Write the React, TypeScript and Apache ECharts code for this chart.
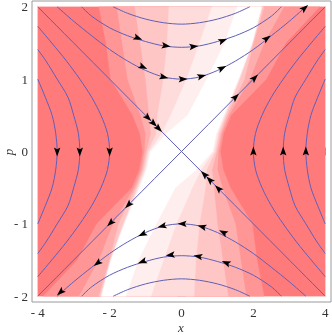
import React, { useEffect, useRef } from 'react';
import * as echarts from 'echarts';

// ---- axis ticks ----
const X_TICKS = [-4, -2, 0, 2, 4];
const X_MINOR = [-4, -3.5, -3, -2.5, -2, -1.5, -1, -0.5, 0, 0.5, 1, 1.5, 2, 2.5, 3, 3.5, 4];
const P_TICKS = [-2, -1, 0, 1, 2];
const P_MINOR = [-2, -1.8, -1.6, -1.4, -1.2, -1, -0.8, -0.6, -0.4, -0.2, 0, 0.2, 0.4, 0.6, 0.8, 1, 1.2, 1.4, 1.6, 1.8, 2];
const X_NAME = 'x';
const P_NAME = 'p';

// ---- background shading regions (data coords) ----
const BAND_COLORS = ['#FF7B7B', '#FF9595', '#FFAEAE', '#FFC6C6', '#FFDCDC', '#FFEEEE', '#FFFFFF'];
const BAND_BASE = [[-4, -2], [4, -2], [4, 2], [-4, 2]];
const BAND_1 = [[3.85, 2], [2.9, 1.5], [2.36, 1], [1.38, 0.5], [1.17, 0.25], [1.08, 0], [1.16, -0.25], [1.36, -0.5], [1.97, -1], [2.1, -1.5], [2.3, -2],
  [-3.85, -2], [-2.9, -1.5], [-2.36, -1], [-1.38, -0.5], [-1.17, -0.25], [-1.08, 0], [-1.16, 0.25], [-1.36, 0.5], [-1.97, 1], [-2.1, 1.5], [-2.3, 2]];
const BAND_2 = [[2.85, 2], [2.3, 1.5], [1.9, 1], [1.32, 0.5], [1.12, 0.25], [1.03, 0], [1.0, -0.25], [1.14, -0.5], [1.5, -1], [1.65, -1.5], [1.8, -2],
  [-2.85, -2], [-2.3, -1.5], [-1.9, -1], [-1.32, -0.5], [-1.12, -0.25], [-1.03, 0], [-1.0, 0.25], [-1.14, 0.5], [-1.5, 1], [-1.65, 1.5], [-1.8, 2]];
const BAND_3 = [[2.3, 2], [2.0, 1.5], [1.75, 1], [1.27, 0.5], [1.08, 0.25], [0.98, 0], [0.85, -0.25], [0.9, -0.5], [1.0, -1], [1.15, -1.5], [1.3, -2],
  [-2.3, -2], [-2.0, -1.5], [-1.75, -1], [-1.27, -0.5], [-1.08, -0.25], [-0.98, 0], [-0.85, 0.25], [-0.9, 0.5], [-1.0, 1], [-1.15, 1.5], [-1.3, 2]];
const BAND_4 = [[2.25, 2], [1.98, 1.5], [1.62, 1], [1.23, 0.5], [1.04, 0.25], [0.94, 0], [0.7, -0.25], [0.67, -0.5], [0.5, -1], [0.4, -1.5], [0.35, -2],
  [-2.25, -2], [-1.98, -1.5], [-1.62, -1], [-1.23, -0.5], [-1.04, -0.25], [-0.94, 0], [-0.7, 0.25], [-0.67, 0.5], [-0.5, 1], [-0.4, 1.5], [-0.35, 2]];
const BAND_5 = [[2.24, 2], [1.97, 1.5], [1.6, 1], [1.2, 0.5], [1.0, 0.25], [0.9, 0], [0.55, -0.25], [0.3, -0.5], [-0.14, -1], [-0.5, -1.5], [-0.85, -2],
  [-2.24, -2], [-1.97, -1.5], [-1.6, -1], [-1.2, -0.5], [-1.0, -0.25], [-0.9, 0], [-0.55, 0.25], [-0.3, 0.5], [0.14, 1], [0.5, 1.5], [0.85, 2]];
const BAND_6 = [[2.22, 2], [1.96, 1.5], [1.58, 1], [1.17, 0.5], [0.97, 0.25], [0.86, 0], [0.42, -0.25], [-0.17, -0.5], [-0.7, -1], [-1.2, -1.5], [-1.55, -2],
  [-2.22, -2], [-1.96, -1.5], [-1.58, -1], [-1.17, -0.5], [-0.97, -0.25], [-0.86, 0], [-0.42, 0.25], [0.17, 0.5], [0.7, 1], [1.2, 1.5], [1.55, 2]];
const BANDS = [BAND_BASE, BAND_1, BAND_2, BAND_3, BAND_4, BAND_5, BAND_6];

// ---- streamlines (x, p) ----
const UP_1 = [[-3.46, 2], [-3, 1.8], [-2.5, 1.6], [-2, 1.41], [-1.5, 1.25], [-1, 1.12], [-0.5, 1.03], [0, 1], [0.5, 1.03], [1, 1.12], [1.5, 1.25], [2, 1.41], [2.5, 1.6], [3, 1.8], [3.46, 2]];
const UP_2 = [[-2.78, 2], [-2.5, 1.87], [-2, 1.71], [-1.5, 1.6], [-1, 1.52], [-0.5, 1.46], [0, 1.44], [0.5, 1.46], [1, 1.52], [1.5, 1.6], [2, 1.71], [2.5, 1.87], [2.78, 2]];
const UP_3 = [[-1.9, 2], [-1.5, 1.91], [-1, 1.83], [-0.5, 1.78], [0, 1.76], [0.5, 1.78], [1, 1.83], [1.5, 1.91], [1.9, 2]];
const DOWN_1 = [[-3.46, -2], [-3, -1.8], [-2.5, -1.6], [-2, -1.41], [-1.5, -1.25], [-1, -1.12], [-0.5, -1.03], [0, -1], [0.5, -1.03], [1, -1.12], [1.5, -1.25], [2, -1.41], [2.5, -1.6], [3, -1.8], [3.46, -2]];
const DOWN_2 = [[-2.78, -2], [-2.5, -1.87], [-2, -1.71], [-1.5, -1.6], [-1, -1.52], [-0.5, -1.46], [0, -1.44], [0.5, -1.46], [1, -1.52], [1.5, -1.6], [2, -1.71], [2.5, -1.87], [2.78, -2]];
const DOWN_3 = [[-1.9, -2], [-1.5, -1.91], [-1, -1.83], [-0.5, -1.78], [0, -1.76], [0.5, -1.78], [1, -1.83], [1.5, -1.91], [1.9, -2]];
const LEFT_1 = [[-4, 1.73], [-3.61, 1.5], [-3.2, 1.25], [-2.83, 1], [-2.5, 0.75], [-2.24, 0.5], [-2.06, 0.25], [-2, 0], [-2.06, -0.25], [-2.24, -0.5], [-2.5, -0.75], [-2.83, -1], [-3.2, -1.25], [-3.61, -1.5], [-4, -1.73]];
const LEFT_2 = [[-4, 1.41], [-3.77, 1.25], [-3.46, 1], [-3.16, 0.75], [-3, 0.5], [-2.87, 0.25], [-2.83, 0], [-2.87, -0.25], [-3, -0.5], [-3.16, -0.75], [-3.46, -1], [-3.77, -1.25], [-4, -1.41]];
const LEFT_3 = [[-4, 1], [-3.79, 0.75], [-3.6, 0.5], [-3.5, 0.25], [-3.46, 0], [-3.5, -0.25], [-3.6, -0.5], [-3.79, -0.75], [-4, -1]];
const RIGHT_1 = [[4, 1.73], [3.61, 1.5], [3.2, 1.25], [2.83, 1], [2.5, 0.75], [2.24, 0.5], [2.06, 0.25], [2, 0], [2.06, -0.25], [2.24, -0.5], [2.5, -0.75], [2.83, -1], [3.2, -1.25], [3.61, -1.5], [4, -1.73]];
const RIGHT_2 = [[4, 1.41], [3.77, 1.25], [3.46, 1], [3.16, 0.75], [3, 0.5], [2.87, 0.25], [2.83, 0], [2.87, -0.25], [3, -0.5], [3.16, -0.75], [3.46, -1], [3.77, -1.25], [4, -1.41]];
const RIGHT_3 = [[4, 1], [3.79, 0.75], [3.6, 0.5], [3.5, 0.25], [3.46, 0], [3.5, -0.25], [3.6, -0.5], [3.79, -0.75], [4, -1]];
const SEP_OUT = [[-4, -2], [4, 2]];
const SEP_IN = [[-4, 2], [4, -2]];
const CURVES = [UP_1, UP_2, UP_3, DOWN_1, DOWN_2, DOWN_3, LEFT_1, LEFT_2, LEFT_3, RIGHT_1, RIGHT_2, RIGHT_3, SEP_OUT, SEP_IN];

// ---- arrowheads: x, p, direction dx, dp ----
const ARROWS = [
  [-1.08, 1.17, 1.17, -0.27], [-0.5, 1.03, 1.03, -0.125], [0.03, 1.0, 1, 0.01], [0.55, 1.04, 1.04, 0.14], [1.12, 1.15, 1.15, 0.28], [2.37, 1.56, 1.56, 0.59], [3.42, 1.98, 1.98, 0.86],
  [-1.22, 1.57, 1.57, -0.3], [-0.44, 1.46, 1.46, -0.11], [0.33, 1.45, 1.45, 0.08], [1.14, 1.53, 1.53, 0.28],
  [1.5, 0.75, 1, 0.5], [2.03, 1.015, 1, 0.5], [-1.47, -0.735, -1, -0.5], [-1.97, -0.985, -1, -0.5],
  [-0.94, 0.47, 1, -0.5], [-0.78, 0.39, 1, -0.5], [-0.64, 0.32, 1, -0.5], [0.64, -0.32, -1, 0.5], [0.79, -0.395, -1, 0.5], [1.03, -0.515, -1, 0.5],
  [-3.46, 0, 0, -1], [-2.83, 0, 0, -1], [-2.0, 0, 0, -1],
  [2.0, 0, 0, 1], [2.83, 0, 0, 1], [3.46, 0, 0, 1],
  [1.17, -1.12, -1.12, 0.29], [0.58, -1.04, -1.04, 0.145], [0.03, -1.0, -1, 0], [-0.53, -1.03, -1.03, -0.13], [-1.08, -1.14, -1.14, -0.27], [-2.33, -1.54, -1.54, -0.58], [-3.36, -1.94, -1.94, -0.84],
  [1.25, -1.54, -1.54, 0.31], [0.47, -1.45, -1.45, 0.12], [-0.3, -1.43, -1.43, -0.075], [-1.08, -1.52, -1.52, -0.27],
];

const FONT = "'Liberation Serif', 'Times New Roman', serif";
const FRAME = '#9a9a9a';
const LABEL = '#333333';
const STREAM = '#5F5FB8';

const fmt = (v: number) => (v < 0 ? '- ' + Math.abs(v) : String(v));

function tickAxis(kind: 'x' | 'y', position: string, major: boolean, labels: boolean) {
  const isX = kind === 'x';
  const vals = isX ? (major ? X_TICKS : X_MINOR) : (major ? P_TICKS : P_MINOR);
  return {
    type: 'value',
    position,
    min: isX ? -4.16 : -2.08,
    max: isX ? 4.16 : 2.08,
    axisLine: { show: false },
    splitLine: { show: false },
    axisTick: { show: true, inside: true, length: major ? 4 : 2, customValues: vals, lineStyle: { color: FRAME, width: 1 } },
    axisLabel: labels
      ? { show: true, customValues: vals, formatter: fmt, fontFamily: FONT, fontSize: 13, color: LABEL, margin: 4 }
      : { show: false },
  };
}

export default function App() {
  const ref = useRef<HTMLDivElement>(null);
  useEffect(() => {
    const chart = echarts.init(ref.current!, null, { renderer: 'svg' });
    const series: any[] = [];
    series.push({
      type: 'custom',
      z: 1,
      silent: true,
      data: BANDS.map((b) => b[0]),
      renderItem: (params: any, api: any) => {
        const pts = BANDS[params.dataIndex].map((pt) => api.coord(pt));
        const c = BAND_COLORS[params.dataIndex];
        return { type: 'polygon', shape: { points: pts }, style: { fill: c, stroke: c, lineWidth: 0.3 } };
      },
    });
    CURVES.forEach((c) => {
      series.push({
        type: 'line',
        data: c,
        z: 3,
        silent: true,
        showSymbol: false,
        symbol: 'none',
        smooth: 0.3,
        lineStyle: { color: STREAM, width: 1 },
      });
    });
    series.push({
      type: 'custom',
      z: 4,
      silent: true,
      dimensions: ['x', 'p', 'dx', 'dp'],
      encode: { x: 0, y: 1 },
      data: ARROWS,
      renderItem: (params: any, api: any) => {
        const x = api.value(0), p = api.value(1), dx = api.value(2), dp = api.value(3);
        const c0 = api.coord([x, p]);
        const c1 = api.coord([x + dx * 0.05, p + dp * 0.05]);
        let ux = c1[0] - c0[0], uy = c1[1] - c0[1];
        const n = Math.hypot(ux, uy) || 1;
        ux /= n; uy /= n;
        const nx = -uy, ny = ux;
        const pts = [
          [c0[0] + 5 * ux, c0[1] + 5 * uy],
          [c0[0] - 4 * ux + 3.2 * nx, c0[1] - 4 * uy + 3.2 * ny],
          [c0[0] - 2.2 * ux, c0[1] - 2.2 * uy],
          [c0[0] - 4 * ux - 3.2 * nx, c0[1] - 4 * uy - 3.2 * ny],
        ];
        return { type: 'polygon', shape: { points: pts }, style: { fill: '#000' } };
      },
    });

    chart.setOption({
      animation: false,
      grid: { left: 32, top: 1, width: 299, height: 301, outerBoundsMode: 'none', containLabel: false, show: true, borderColor: FRAME, borderWidth: 1, backgroundColor: 'transparent' },
      xAxis: [tickAxis('x', 'bottom', true, true), tickAxis('x', 'bottom', false, false), tickAxis('x', 'top', true, false), tickAxis('x', 'top', false, false)],
      yAxis: [tickAxis('y', 'left', true, true), tickAxis('y', 'left', false, false), tickAxis('y', 'right', true, false), tickAxis('y', 'right', false, false)],
      graphic: [
        { type: 'text', x: 181, y: 327, style: { text: X_NAME, textAlign: 'center', textVerticalAlign: 'middle', fontFamily: FONT, fontSize: 13, fontStyle: 'italic', fill: LABEL } },
        { type: 'text', x: 8, y: 152, rotation: Math.PI / 2, style: { text: P_NAME, textAlign: 'center', textVerticalAlign: 'middle', fontFamily: FONT, fontSize: 13, fontStyle: 'italic', fill: LABEL } },
      ],
      series,
    });
    return () => chart.dispose();
  }, []);
  return <div ref={ref} style={{ position: 'fixed', left: 0, top: 0, width: 332, height: 335 }} />;
}
